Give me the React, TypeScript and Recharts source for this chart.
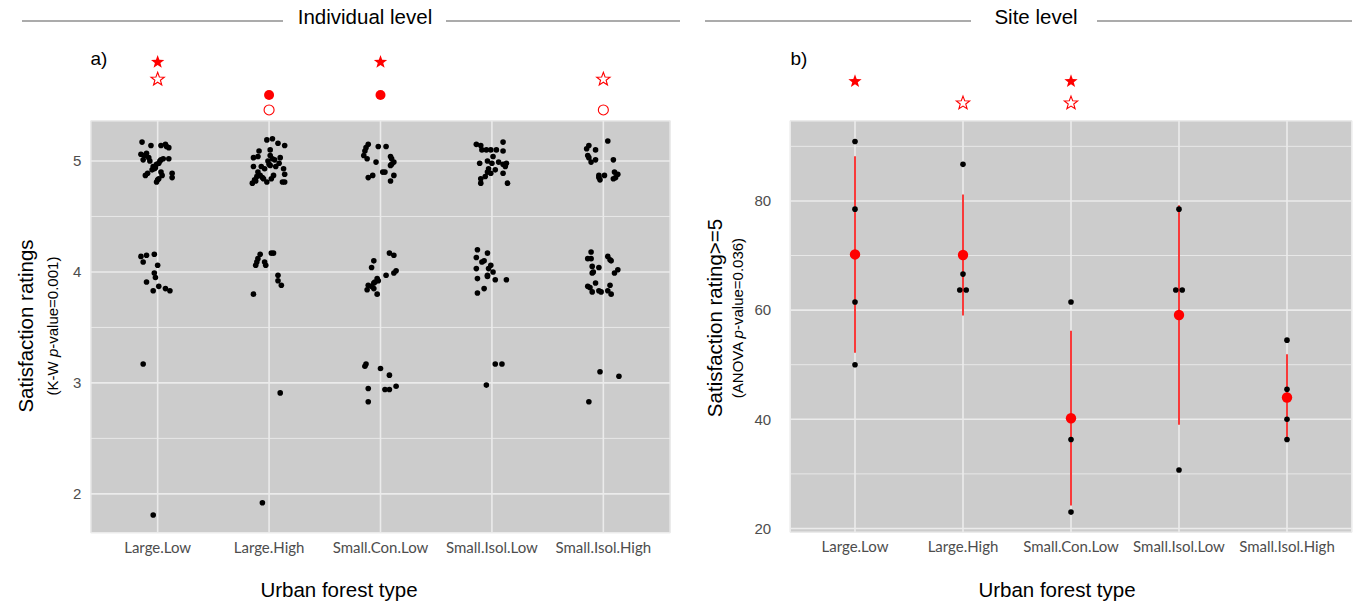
import React from 'react'
import {
  ComposedChart,
  Scatter,
  XAxis,
  YAxis,
  CartesianGrid,
  ReferenceLine,
  ReferenceDot,
  ErrorBar,
} from 'recharts'

const categories = ['Large.Low', 'Large.High', 'Small.Con.Low', 'Small.Isol.Low', 'Small.Isol.High']

// Individual level: [horizontal jitter, satisfaction rating (with vertical jitter)]
const largeLow = [
  [-0.14, 5.17], [-0.06, 5.14], [0.03, 5.14], [0.07, 5.15], [0.1, 5.12], [-0.15, 5.06], [-0.1, 5.07],
  [-0.08, 5.03], [-0.13, 5.01], [-0.07, 5.0], [-0.04, 4.95], [-0.05, 4.92], [-0.01, 4.97], [0.03, 5.01],
  [0.05, 5.02], [0.1, 5.02], [0.01, 4.98], [-0.11, 4.87], [-0.09, 4.89], [0.03, 4.9], [0.04, 4.87],
  [0.01, 4.84], [-0.01, 4.81], [0.13, 4.89], [0.13, 4.85], [-0.02, 4.94], [-0.03, 4.93], [0.02, 5.0],
  [-0.12, 5.05], [0.08, 5.13], [0.0, 4.83],
  [-0.15, 4.14], [-0.1, 4.15], [-0.13, 4.09], [-0.03, 4.16], [0.0, 4.06], [-0.03, 3.99], [-0.02, 3.95],
  [-0.1, 3.91], [0.01, 3.87], [-0.04, 3.83], [0.07, 3.85], [0.11, 3.83],
  [-0.13, 3.17], [-0.04, 1.81],
]
const largeHigh = [
  [-0.02, 5.19], [0.03, 5.2], [0.08, 5.16], [0.14, 5.14], [-0.09, 5.09], [0.01, 5.1], [-0.1, 5.04],
  [-0.14, 5.03], [0.01, 5.05], [0.03, 5.02], [0.1, 5.03], [-0.01, 5.0], [0.05, 5.01], [-0.14, 4.95],
  [-0.07, 4.95], [-0.04, 4.93], [0.01, 4.96], [0.09, 4.98], [0.13, 4.93], [0.14, 4.88], [-0.11, 4.86],
  [-0.08, 4.87], [-0.13, 4.83], [-0.15, 4.8], [-0.05, 4.84], [-0.02, 4.81], [0.02, 4.84], [0.04, 4.87],
  [0.12, 4.81], [0.14, 4.81], [-0.1, 4.9], [-0.06, 4.85], [0.0, 4.97], [-0.12, 4.82], [0.06, 4.95],
  [-0.08, 4.16], [-0.1, 4.12], [-0.11, 4.09], [-0.12, 4.06], [-0.04, 4.09], [-0.03, 4.06], [0.02, 4.17],
  [0.04, 4.17], [0.08, 3.97], [0.08, 3.92], [0.11, 3.88], [-0.14, 3.8],
  [0.1, 2.91], [-0.06, 1.92],
]
const smallConLow = [
  [-0.11, 5.15], [-0.13, 5.12], [-0.14, 5.09], [-0.15, 5.05], [-0.12, 5.02], [-0.02, 5.13], [0.05, 5.13],
  [0.09, 5.04], [0.1, 5.02], [0.12, 4.99], [0.09, 4.96], [0.1, 4.97], [-0.04, 4.99], [-0.11, 4.85],
  [-0.07, 4.87], [0.02, 4.9], [0.04, 4.9], [0.12, 4.87], [0.09, 4.82],
  [0.08, 4.17], [0.12, 4.15], [-0.06, 4.1], [-0.08, 4.04], [0.14, 4.01], [0.12, 3.99], [0.05, 3.97],
  [-0.03, 3.94], [-0.02, 3.92], [-0.05, 3.91], [-0.06, 3.9], [-0.11, 3.88], [-0.08, 3.87], [-0.06, 3.85],
  [-0.12, 3.84], [-0.03, 3.8],
  [-0.14, 3.15], [-0.13, 3.17], [0.0, 3.13], [0.08, 3.07], [-0.11, 2.95], [0.04, 2.94], [0.08, 2.94],
  [0.14, 2.97], [-0.11, 2.83],
]
const smallIsolLow = [
  [-0.14, 5.15], [-0.1, 5.14], [0.1, 5.17], [-0.09, 5.1], [-0.05, 5.1], [-0.01, 5.1], [0.04, 5.1],
  [0.1, 5.09], [0.01, 5.04], [-0.11, 4.98], [-0.04, 5.0], [0.0, 4.98], [0.06, 4.99], [0.1, 4.97],
  [0.13, 4.98], [0.12, 4.95], [-0.03, 4.93], [-0.04, 4.9], [0.03, 4.92], [0.1, 4.89], [-0.06, 4.86],
  [-0.1, 4.84], [-0.1, 4.8], [0.14, 4.8], [-0.01, 4.89],
  [-0.13, 4.2], [-0.04, 4.17], [-0.14, 4.13], [-0.09, 4.09], [-0.07, 4.1], [-0.01, 4.06], [-0.03, 4.03],
  [0.01, 4.0], [-0.14, 4.03], [-0.04, 3.97], [-0.04, 3.96], [-0.13, 3.94], [0.03, 3.93], [0.13, 3.93],
  [-0.07, 3.85], [-0.13, 3.81],
  [0.03, 3.17], [0.09, 3.17], [-0.05, 2.98],
]
const smallIsolHigh = [
  [0.04, 5.18], [-0.13, 5.14], [-0.15, 5.11], [-0.07, 5.1], [-0.14, 5.05], [-0.13, 5.03], [-0.11, 4.99],
  [-0.07, 5.01], [0.09, 5.01], [-0.04, 4.87], [-0.04, 4.85], [-0.03, 4.83], [0.01, 4.87], [0.1, 4.9],
  [0.13, 4.88], [0.09, 4.84], [0.11, 4.85],
  [-0.11, 4.18], [-0.14, 4.12], [-0.11, 4.12], [0.04, 4.14], [0.06, 4.11], [0.07, 4.1], [-0.1, 4.05],
  [-0.04, 4.04], [-0.09, 4.0], [-0.1, 3.99], [0.13, 4.02], [0.1, 3.99], [-0.07, 3.9], [-0.14, 3.87],
  [-0.12, 3.86], [-0.1, 3.82], [-0.04, 3.83], [-0.02, 3.82], [0.06, 3.88], [0.04, 3.83], [0.07, 3.8],
  [-0.03, 3.1], [0.14, 3.06], [-0.13, 2.83],
]

// Site level: [jitter, % of ratings >= 5]
const siteLargeLow = [[0, 90.9], [0, 78.5], [0, 61.5], [0, 50.0]]
const siteLargeHigh = [[0, 86.7], [0, 66.6], [-0.03, 63.7], [0.03, 63.7]]
const siteSmallConLow = [[0, 61.5], [0, 36.3], [0, 23.0]]
const siteSmallIsolLow = [[0, 78.5], [-0.03, 63.7], [0.03, 63.7], [0, 30.7]]
const siteSmallIsolHigh = [[0, 54.5], [0, 45.5], [0, 40.0], [0, 36.3]]
const siteMeans = [70.2, 70.1, 40.2, 59.1, 44.0]
const siteErrors = [18.0, 11.1, 16.0, 20.1, 7.9]

// significance symbols above each group
const indFilledStar = ['Large.Low', 'Small.Con.Low']
const indOpenStar = ['Large.Low', 'Small.Isol.High']
const indFilledDot = ['Large.High', 'Small.Con.Low']
const indOpenDot = ['Large.High', 'Small.Isol.High']
const siteFilledStar = ['Large.Low', 'Small.Con.Low']
const siteOpenStar = ['Large.High', 'Small.Con.Low']

const toPoints = (groups: number[][][]) =>
  groups.flatMap((g, i) => g.map(([j, v]) => ({ x: i + 1 + j, y: v })))

const individualData = toPoints([largeLow, largeHigh, smallConLow, smallIsolLow, smallIsolHigh])
const siteData = toPoints([siteLargeLow, siteLargeHigh, siteSmallConLow, siteSmallIsolLow, siteSmallIsolHigh])
const meanData = siteMeans.map((m, i) => ({ x: i + 1, y: m, err: siteErrors[i] }))

const catIndex = (c: string) => categories.indexOf(c) + 1

const RED = '#FF0000'
const PANEL_BG = '#CCCCCC'
const GRID = '#EBEBEB'
const TITLE_FONT = '"Liberation Sans", Arial, sans-serif'

const starPath = (cx: number, cy: number, R: number, r: number) => {
  let d = ''
  for (let k = 0; k < 10; k++) {
    const a = -Math.PI / 2 + (k * Math.PI) / 5
    const rad = k % 2 === 0 ? R : r
    d += (k === 0 ? 'M' : 'L') + (cx + rad * Math.cos(a)).toFixed(2) + ',' + (cy + rad * Math.sin(a)).toFixed(2)
  }
  return d + 'Z'
}

const filledStar = (p: any) => <path d={starPath(p.cx, p.cy + 1, 7, 2.9)} fill={RED} />
const openStar = (p: any) => <path d={starPath(p.cx, p.cy + 1, 7, 2.9)} fill="none" stroke={RED} strokeWidth={1.1} />
const filledDot = (p: any) => <circle cx={p.cx} cy={p.cy} r={5} fill={RED} />
const openDot = (p: any) => <circle cx={p.cx} cy={p.cy} r={5} fill="none" stroke={RED} strokeWidth={1.1} />

const blackDot = (p: any) => <circle cx={p.cx} cy={p.cy} r={2.8} fill="#000" />
const meanDot = (p: any) => <circle cx={p.cx} cy={p.cy} r={5.2} fill={RED} />
const noDot = () => <g />

const xTick = { fontFamily: 'Lato, "Open Sans", sans-serif', fontSize: 15, fill: '#4D4D4D' }
const yTick = { fontFamily: TITLE_FONT, fontSize: 15, fill: '#4D4D4D' }

const yTitle = (x1: number, x2: number, cy: number, main: string, pre: string, post: string) => () => (
  <g fontFamily={TITLE_FONT} fill="#000">
    <text x={x1} y={cy} transform={`rotate(-90 ${x1} ${cy})`} textAnchor="middle" fontSize={20.5}>
      {main}
    </text>
    <text x={x2} y={cy} transform={`rotate(-90 ${x2} ${cy})`} textAnchor="middle" fontSize={15}>
      {pre}
      <tspan fontStyle="italic">p</tspan>
      {post}
    </text>
  </g>
)

const xTitle = (cx: number) => () => (
  <text x={cx} y={597} textAnchor="middle" fontSize={20.5} fontFamily={TITLE_FONT} fill="#000">
    Urban forest type
  </text>
)

const symbolDots = (cats: string[], y: number, shape: any, key: string) =>
  cats.map((c) => (
    <ReferenceDot key={key + c} x={catIndex(c)} y={y} r={5} ifOverflow="visible" shape={shape} />
  ))

function IndividualPanel() {
  return (
    <ComposedChart width={680} height={604} margin={{ top: 120.7, right: 9.8, bottom: 0, left: 0 }}>
      <CartesianGrid fill={PANEL_BG} stroke={GRID} strokeWidth={1.6} />
      <XAxis
        type="number"
        dataKey="x"
        domain={[0.4, 5.6]}
        ticks={[1, 2, 3, 4, 5]}
        interval={0}
        allowDataOverflow
        tickFormatter={(v: number) => categories[v - 1]}
        height={71.3}
        axisLine={false}
        tickLine={false}
        tickSize={0}
        tickMargin={9.5}
        tick={xTick}
        label={xTitle(339 - 0)}
      />
      <YAxis
        type="number"
        dataKey="y"
        domain={[1.65, 5.363]}
        ticks={[2, 3, 4, 5]}
        interval={0}
        allowDataOverflow
        width={90.8}
        axisLine={false}
        tickLine={false}
        tickSize={0}
        tickMargin={9.5}
        tick={yTick}
        label={yTitle(33, 57.5, 326, 'Satisfaction ratings', '(K-W ', '-value=0.001)')}
      />
      {[2.5, 3.5, 4.5].map((v) => (
        <ReferenceLine key={v} y={v} stroke={GRID} strokeWidth={0.9} />
      ))}
      <Scatter data={individualData} shape={blackDot} isAnimationActive={false} />
      {symbolDots(indFilledStar, 5.9, filledStar, 'fs')}
      {symbolDots(indOpenStar, 5.745, openStar, 'os')}
      {symbolDots(indFilledDot, 5.595, filledDot, 'fd')}
      {symbolDots(indOpenDot, 5.46, openDot, 'od')}
    </ComposedChart>
  )
}

function SitePanel() {
  return (
    <ComposedChart width={682} height={604} margin={{ top: 120.7, right: 10.2, bottom: 0, left: 0 }}>
      <CartesianGrid fill={PANEL_BG} stroke={GRID} strokeWidth={1.6} />
      <XAxis
        type="number"
        dataKey="x"
        domain={[0.4, 5.6]}
        ticks={[1, 2, 3, 4, 5]}
        interval={0}
        allowDataOverflow
        tickFormatter={(v: number) => categories[v - 1]}
        height={71.7}
        axisLine={false}
        tickLine={false}
        tickSize={0}
        tickMargin={9.5}
        tick={xTick}
        label={xTitle(1057 - 680)}
      />
      <YAxis
        type="number"
        dataKey="y"
        domain={[19.3, 94.7]}
        ticks={[20, 40, 60, 80]}
        interval={0}
        allowDataOverflow
        width={110.2}
        axisLine={false}
        tickLine={false}
        tickSize={0}
        tickMargin={19}
        tick={yTick}
        label={yTitle(722 - 680, 742.5 - 680, 318, 'Satisfaction rating>=5', '(ANOVA ', '-value=0.036)')}
      />
      {[30, 50, 70, 90].map((v) => (
        <ReferenceLine key={v} y={v} stroke={GRID} strokeWidth={0.9} />
      ))}
      <Scatter data={meanData} shape={noDot} isAnimationActive={false}>
        <ErrorBar dataKey="err" direction="y" width={0} stroke={RED} strokeWidth={1.5} isAnimationActive={false} />
      </Scatter>
      <Scatter data={siteData} shape={blackDot} isAnimationActive={false} />
      <Scatter data={meanData} shape={meanDot} isAnimationActive={false} />
      {symbolDots(siteFilledStar, 102.1, filledStar, 'fs')}
      {symbolDots(siteOpenStar, 98.1, openStar, 'os')}
    </ComposedChart>
  )
}

const headerLine = (left: number, width: number) => (
  <div style={{ position: 'absolute', left, top: 19.7, width, height: 2, background: '#ABABAB' }} />
)

const headerText = (text: string, cx: number) => (
  <div
    style={{
      position: 'absolute',
      left: cx - 100,
      width: 200,
      top: 5,
      textAlign: 'center',
      fontFamily: TITLE_FONT,
      fontSize: 20.5,
      lineHeight: '24px',
      color: '#000',
    }}
  >
    {text}
  </div>
)

const panelTag = (text: string, left: number) => (
  <div
    style={{
      position: 'absolute',
      left,
      top: 47,
      fontFamily: TITLE_FONT,
      fontSize: 19,
      lineHeight: '24px',
      color: '#000',
    }}
  >
    {text}
  </div>
)

export default function App() {
  return (
    <div style={{ position: 'absolute', left: 0, top: 0, width: 1362, height: 604, background: '#fff', overflow: 'hidden' }}>
      {headerLine(22, 261)}
      {headerLine(446, 234)}
      {headerText('Individual level', 365)}
      {headerLine(705, 266)}
      {headerLine(1097, 255)}
      {headerText('Site level', 1036)}
      {panelTag('a)', 90.5)}
      {panelTag('b)', 790.5)}
      <div style={{ position: 'absolute', left: 0, top: 0 }}>
        <IndividualPanel />
      </div>
      <div style={{ position: 'absolute', left: 680, top: 0 }}>
        <SitePanel />
      </div>
    </div>
  )
}
